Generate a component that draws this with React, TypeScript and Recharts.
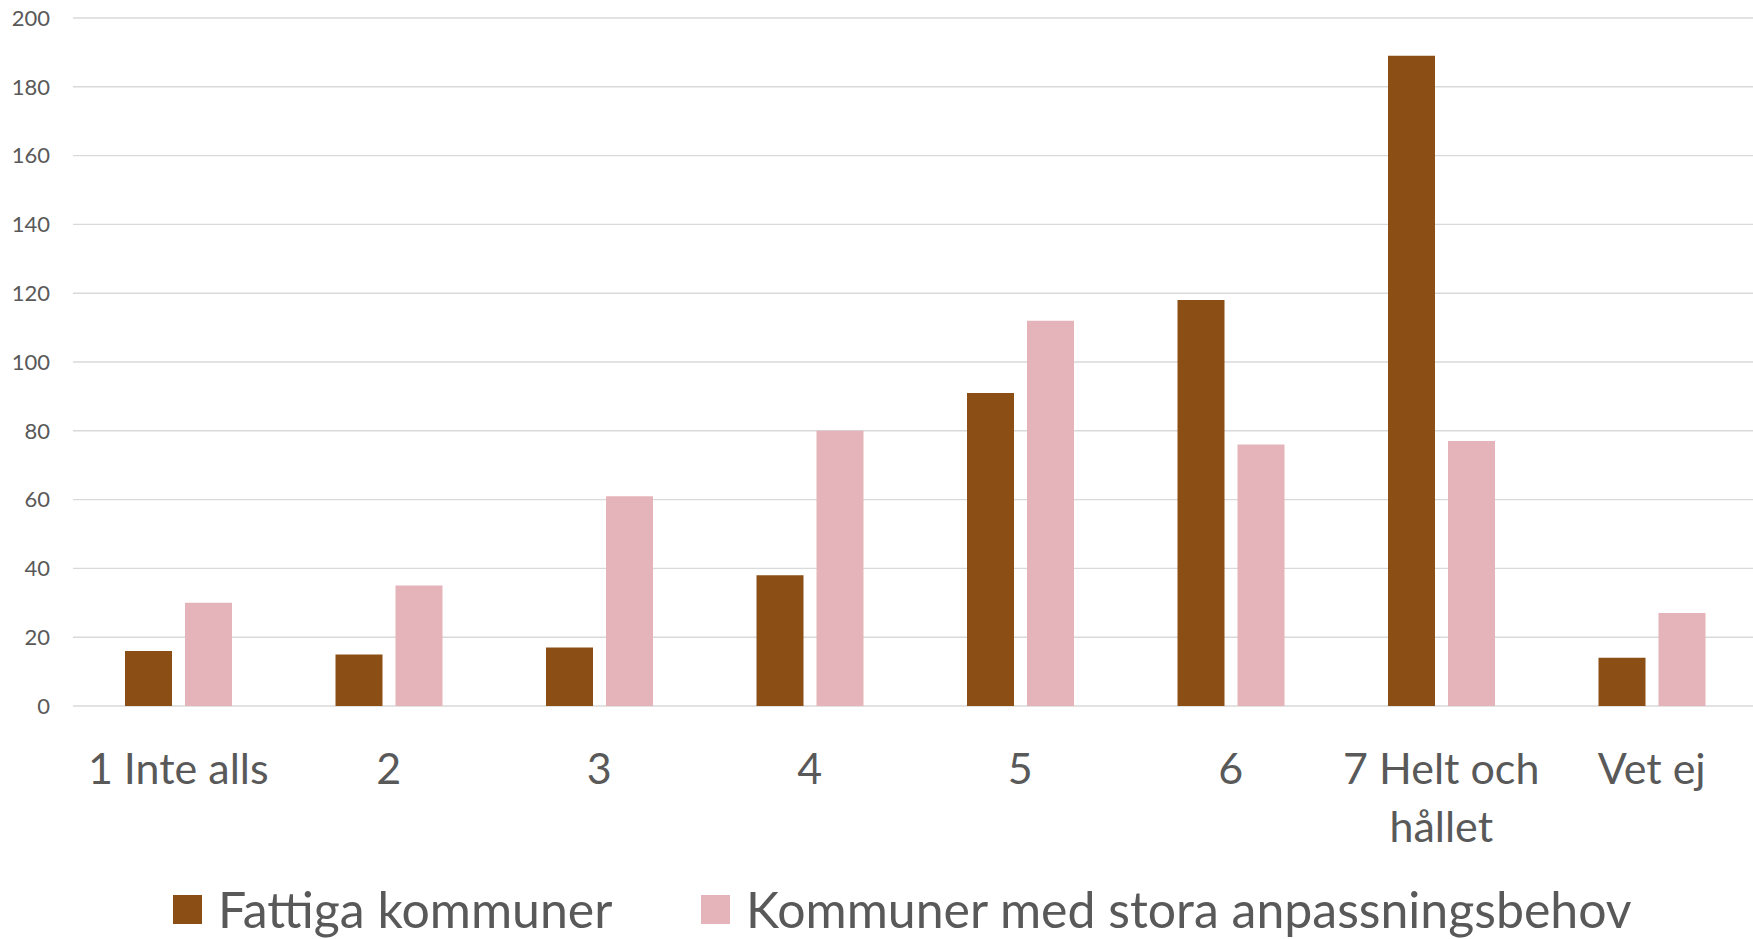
import { BarChart, Bar, XAxis, YAxis, CartesianGrid, Legend } from 'recharts'

const categories = ['1 Inte alls', '2', '3', '4', '5', '6', '7 Helt och\nhållet', 'Vet ej']
const fattiga = [16, 15, 17, 38, 91, 118, 189, 14]
const anpassning = [30, 35, 61, 80, 112, 76, 77, 27]
const yTicks = [0, 20, 40, 60, 80, 100, 120, 140, 160, 180, 200]

const series = [
  { key: 'fattiga', label: 'Fattiga kommuner', color: '#8B4E14' },
  { key: 'anpassning', label: 'Kommuner med stora anpassningsbehov', color: '#E4B4BA' },
]

const data = categories.map((c, i) => ({ name: c, fattiga: fattiga[i], anpassning: anpassning[i] }))

const FONT = 'Lato, "Open Sans", sans-serif'
const TEXT = '#595959'

function XTick({ x, y, payload }: any) {
  const lines = String(payload.value).split('\n')
  return (
    <text x={x} y={y} textAnchor="middle" fill={TEXT} fontFamily={FONT} fontSize={43}>
      {lines.map((l, i) => (
        <tspan key={i} x={x} y={y + 78 + i * 58}>{l}</tspan>
      ))}
    </text>
  )
}

function LegendContent() {
  return (
    <div style={{ position: 'relative', height: 64, fontFamily: FONT, fontSize: 50, color: TEXT }}>
      {series.map((s, i) => (
        <div key={s.key} style={{ position: 'absolute', left: i ? 701 : 173, top: 2, height: 64, display: 'flex', alignItems: 'center' }}>
          <span style={{ width: 29, height: 29, background: s.color, display: 'inline-block', marginRight: 16 }} />
          <span>{s.label}</span>
        </div>
      ))}
    </div>
  )
}

export default function App() {
  return (
    <div style={{ position: 'absolute', left: 0, top: 0, width: 1753, height: 939, overflow: 'hidden', background: '#fff' }}>
      <BarChart
        width={1757}
        height={939}
        data={data}
        margin={{ top: 18, right: 0, left: 0, bottom: 0 }}
        barGap={13}
        barCategoryGap="24%"
      >
        <CartesianGrid stroke="#D9D9D9" strokeWidth={1.4} vertical={false} />
        <XAxis dataKey="name" axisLine={false} tickLine={false} tickSize={0} tickMargin={0} height={169} tick={<XTick />} interval={0} />
        <YAxis
          width={73}
          domain={[0, 200]}
          ticks={yTicks}
          axisLine={false}
          tickLine={false}
          tickSize={0}
          tickMargin={23}
          tick={{ fill: TEXT, fontSize: 22, fontFamily: FONT }}
        />
        <Legend verticalAlign="bottom" content={<LegendContent />} />
        {series.map((s) => (
          <Bar key={s.key} dataKey={s.key} name={s.label} fill={s.color} barSize={47} isAnimationActive={false} />
        ))}
      </BarChart>
    </div>
  )
}
